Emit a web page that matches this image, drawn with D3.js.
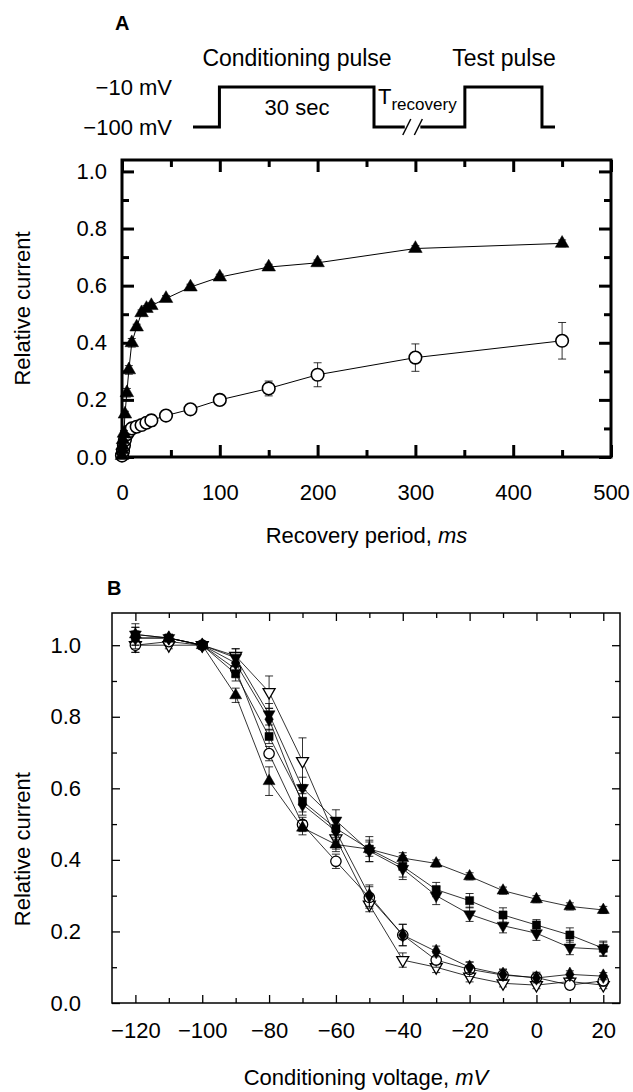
<!DOCTYPE html>
<html>
<head>
<meta charset="utf-8">
<script src="https://cdn.jsdelivr.net/npm/d3@7"></script>
<style>
  body { margin: 0; background: #ffffff; }
  svg text { font-family: "Liberation Sans", Arial, Helvetica, sans-serif; fill: #000; }
</style>
</head>
<body>
<div id="chart"></div>
<script>
(function() {
  'use strict';

  // Panel A: recovery from inactivation (filled triangles, open circles)
  const recoveryMsTri = [0, 0.25, 0.5, 1, 2, 3, 5, 7, 10, 15, 20, 25, 30, 45, 70, 100, 150, 200, 300, 450];
  const currentTri    = [0.005, 0.025, 0.04, 0.06, 0.083, 0.15, 0.225, 0.305, 0.40, 0.455, 0.505, 0.52, 0.53, 0.555, 0.595, 0.63, 0.665, 0.68, 0.73, 0.748];
  const errTri        = [0.005, 0.005, 0.005, 0.005, 0.01, 0.01, 0.015, 0.015, 0.015, 0.01, 0.01, 0.01, 0.01, 0.01, 0.01, 0.01, 0.01, 0.01, 0.01, 0.012];
  const recoveryMsCirc = [0, 1, 2, 3, 5, 7, 10, 15, 20, 25, 30, 45, 70, 100, 150, 200, 300, 450];
  const currentCirc    = [0.005, 0.02, 0.04, 0.06, 0.08, 0.09, 0.1, 0.106, 0.112, 0.12, 0.128, 0.145, 0.167, 0.2, 0.24, 0.288, 0.348, 0.407];
  const errCirc        = [0.005, 0.005, 0.005, 0.01, 0.01, 0.01, 0.01, 0.01, 0.012, 0.015, 0.02, 0.01, 0.01, 0.015, 0.026, 0.042, 0.048, 0.064];

  const recoveryTicks = [0, 100, 200, 300, 400, 500];
  const recoveryMinorTicks = [50, 150, 250, 350, 450];
  const currentTicks = [0, 0.2, 0.4, 0.6, 0.8, 1.0];
  const currentMinorTicks = [0.1, 0.3, 0.5, 0.7, 0.9];

  // Panel B: steady-state inactivation, six series
  const voltages = [-120, -110, -100, -90, -80, -70, -60, -50, -40, -30, -20, -10, 0, 10, 20];
  const triUp     = [1.03, 1.02, 1.0, 0.86, 0.62, 0.49, 0.443, 0.43, 0.405, 0.39, 0.354, 0.314, 0.29, 0.27, 0.26];
  const squares   = [1.02, 1.02, 1.0, 0.92, 0.745, 0.564, 0.488, 0.43, 0.382, 0.317, 0.286, 0.246, 0.218, 0.19, 0.153];
  const triDown   = [1.03, 1.02, 1.0, 0.965, 0.807, 0.601, 0.51, 0.425, 0.375, 0.30, 0.248, 0.216, 0.195, 0.155, 0.15];
  const diamonds  = [1.02, 1.02, 1.0, 0.95, 0.793, 0.555, 0.48, 0.30, 0.19, 0.144, 0.10, 0.08, 0.07, 0.08, 0.075];
  const circles   = [1.00, 1.01, 1.0, 0.933, 0.697, 0.499, 0.396, 0.295, 0.19, 0.12, 0.094, 0.078, 0.071, 0.05, 0.062];
  const triOpen   = [1.00, 1.00, 1.0, 0.97, 0.869, 0.676, 0.46, 0.275, 0.12, 0.10, 0.074, 0.055, 0.05, 0.06, 0.05];

  const errUp     = [0.02, 0.01, 0, 0.02, 0.04, 0.02, 0.02, 0.02, 0.015, 0.01, 0.01, 0.01, 0.01, 0.01, 0.01];
  const errSq     = [0.03, 0.01, 0, 0.02, 0.02, 0.03, 0.03, 0.035, 0.03, 0.02, 0.02, 0.02, 0.015, 0.02, 0.02];
  const errDown   = [0.03, 0.01, 0, 0.025, 0.03, 0.03, 0.03, 0.03, 0.03, 0.025, 0.02, 0.02, 0.02, 0.02, 0.02];
  const errDia    = [0.02, 0.01, 0, 0.02, 0.03, 0.03, 0.03, 0.03, 0.03, 0.015, 0.015, 0.015, 0.01, 0.01, 0.01];
  const errCircB  = [0.02, 0.01, 0, 0.02, 0.02, 0.02, 0.02, 0.03, 0.03, 0.02, 0.02, 0.015, 0.015, 0.01, 0.015];
  const errOpen   = [0.02, 0.01, 0, 0.02, 0.045, 0.065, 0.03, 0.02, 0.02, 0.015, 0.015, 0.01, 0.01, 0.01, 0.01];

  const voltageTicks = [-120, -100, -80, -60, -40, -20, 0, 20];
  const voltageMinorTicks = [-110, -90, -70, -50, -30, -10, 10];

  // Protocol schematic (fraction of schematic width, mV level)
  const protocolLevels = [-10, -100];
  const protocolTraceA = [[0, -100], [0.073, -100], [0.073, -10], [0.5, -10], [0.5, -100], [0.585, -100]];
  const protocolTraceB = [[0.628, -100], [0.751, -100], [0.751, -10], [0.964, -10], [0.964, -100], [1, -100]];

  const W = 633, H = 1092;
  const FONT = 22;

  const svg = d3.select('#chart').append('svg')
    .attr('width', W)
    .attr('height', H);
  svg.append('rect').attr('width', W).attr('height', H).attr('fill', '#fff');

  /**
   * Boxed frame with inward ticks on all four sides
   */
  function drawFrame(g, x, y, o) {
    const [x0, x1] = x.range();
    const [y0, y1] = y.range();

    function addAxis(axis, tr) {
      g.append('g')
        .attr('transform', tr)
        .call(axis)
        .call(s => s.select('.domain').remove());
    }

    addAxis(d3.axisBottom(x).tickValues(o.xMajor).tickSize(-o.major).tickPadding(o.xPad).tickFormat(o.xFmt), `translate(0,${y0})`);
    addAxis(d3.axisBottom(x).tickValues(o.xMinor).tickSize(-o.minor).tickFormat(''), `translate(0,${y0})`);
    addAxis(d3.axisTop(x).tickValues(o.xMajor).tickSize(-o.major).tickFormat(''), `translate(0,${y1})`);
    addAxis(d3.axisTop(x).tickValues(o.xMinor).tickSize(-o.minor).tickFormat(''), `translate(0,${y1})`);
    addAxis(d3.axisLeft(y).tickValues(o.yMajor).tickSize(-o.major).tickPadding(o.yPad).tickFormat(d3.format('.1f')), `translate(${x0},0)`);
    addAxis(d3.axisLeft(y).tickValues(o.yMinor).tickSize(-o.minor).tickFormat(''), `translate(${x0},0)`);
    addAxis(d3.axisRight(y).tickValues(o.yMajor).tickSize(-o.major).tickFormat(''), `translate(${x1},0)`);
    addAxis(d3.axisRight(y).tickValues(o.yMinor).tickSize(-o.minor).tickFormat(''), `translate(${x1},0)`);

    g.selectAll('.tick line').attr('stroke', '#000').attr('stroke-width', o.tickW);
    g.selectAll('.tick text')
      .attr('font-size', FONT)
      .attr('font-family', '"Liberation Sans", Arial, Helvetica, sans-serif')
      .attr('fill', '#000');

    g.append('rect')
      .attr('x', x0)
      .attr('y', y1)
      .attr('width', x1 - x0)
      .attr('height', y0 - y1)
      .attr('fill', 'none')
      .attr('stroke', '#000')
      .attr('stroke-width', o.frame);
  }

  /**
   * One series: connecting line, error bars, markers
   */
  function drawSeries(g, x, y, xs, ys, errs, marker, o) {
    const pts = xs.map((d, i) => ({ x: d, y: ys[i], e: errs[i] }));

    g.append('path')
      .datum(pts)
      .attr('d', d3.line().x(d => x(d.x)).y(d => y(d.y)))
      .attr('fill', 'none')
      .attr('stroke', '#000')
      .attr('stroke-width', o.lineW);

    const eb = g.append('g');
    pts.filter(d => d.e > 0.006).forEach(d => {
      const cx = x(d.x), top = y(d.y + d.e), bot = y(d.y - d.e);
      eb.append('line').attr('x1', cx).attr('x2', cx).attr('y1', top).attr('y2', bot);
      eb.append('line').attr('x1', cx - o.cap).attr('x2', cx + o.cap).attr('y1', top).attr('y2', top);
      eb.append('line').attr('x1', cx - o.cap).attr('x2', cx + o.cap).attr('y1', bot).attr('y2', bot);
    });
    eb.selectAll('line').attr('stroke', '#000').attr('stroke-width', 0.8);

    const mk = g.append('g');
    pts.forEach(d => {
      const cx = x(d.x), cy = y(d.y);
      if (marker.type === 'circle') {
        mk.append('circle')
          .attr('cx', cx).attr('cy', cy).attr('r', marker.r)
          .attr('fill', '#fff').attr('stroke', '#000').attr('stroke-width', marker.sw);
      } else {
        mk.append('path')
          .attr('d', d3.symbol().type(marker.type).size(marker.size)())
          .attr('transform', `translate(${cx},${cy})` + (marker.flip ? ' rotate(180)' : ''))
          .attr('fill', marker.open ? '#fff' : '#000')
          .attr('stroke', '#000')
          .attr('stroke-width', marker.open ? 1.3 : 0.5);
      }
    });
  }

  // ---------------- Protocol schematic ----------------
  const protoX = d3.scaleLinear().domain([0, 1]).range([193, 555]);
  const protoY = d3.scaleLinear().domain([-100, -10]).range([127, 87]);
  const proto = svg.append('g');
  const protoLine = d3.line().x(d => protoX(d[0])).y(d => protoY(d[1]));

  [protocolTraceA, protocolTraceB].forEach(tr => {
    proto.append('path')
      .attr('d', protoLine(tr))
      .attr('fill', 'none')
      .attr('stroke', '#000')
      .attr('stroke-width', 3)
      .attr('stroke-linejoin', 'miter');
  });
  // break marks
  [protoX(0.585) + 2, protoX(0.628) - 2].forEach(bx => {
    proto.append('line')
      .attr('x1', bx - 4).attr('x2', bx + 4)
      .attr('y1', protoY(-100) + 8).attr('y2', protoY(-100) - 8)
      .attr('stroke', '#000').attr('stroke-width', 1.5);
  });

  protocolLevels.forEach(v => {
    proto.append('text')
      .attr('x', 172)
      .attr('y', protoY(v))
      .attr('dy', '0.36em')
      .attr('text-anchor', 'end')
      .attr('font-size', FONT)
      .text(d3.format('d')(v) + ' mV');
  });

  proto.append('text').attr('x', 297).attr('y', 66).attr('text-anchor', 'middle')
    .attr('font-size', 23).text('Conditioning pulse');
  proto.append('text').attr('x', 504).attr('y', 66).attr('text-anchor', 'middle')
    .attr('font-size', 23).text('Test pulse');
  proto.append('text').attr('x', 297).attr('y', 115).attr('text-anchor', 'middle')
    .attr('font-size', FONT).text('30 sec');
  const tRec = proto.append('text').attr('x', 378).attr('y', 104).attr('font-size', FONT);
  tRec.append('tspan').text('T');
  tRec.append('tspan').attr('dy', 6).attr('font-size', 17).text('recovery');

  svg.append('text').attr('x', 115).attr('y', 30).attr('font-size', 20)
    .attr('font-weight', 'bold').text('A');
  svg.append('text').attr('x', 107).attr('y', 595).attr('font-size', 20)
    .attr('font-weight', 'bold').text('B');

  // ---------------- Panel A ----------------
  const xA = d3.scaleLinear().domain([0, 500]).range([122, 611]);
  const yA = d3.scaleLinear().domain([0, 1.04]).range([457, 160]);
  const gA = svg.append('g');

  drawFrame(gA, xA, yA, {
    xMajor: recoveryTicks, xMinor: recoveryMinorTicks,
    yMajor: currentTicks, yMinor: currentMinorTicks,
    major: 12, minor: 7, tickW: 3, frame: 3,
    xPad: 27, yPad: 15, xFmt: d3.format('d')
  });

  const styleA = { lineW: 1, cap: 4 };
  drawSeries(gA, xA, yA, recoveryMsCirc, currentCirc, errCirc, { type: 'circle', r: 6.3, sw: 1.6 }, styleA);
  drawSeries(gA, xA, yA, recoveryMsTri, currentTri, errTri, { type: d3.symbolTriangle, size: 80 }, styleA);

  gA.append('text')
    .attr('transform', `translate(30,${(yA.range()[0] + yA.range()[1]) / 2}) rotate(-90)`)
    .attr('text-anchor', 'middle')
    .attr('font-size', FONT)
    .text('Relative current');

  const titleA = gA.append('text')
    .attr('x', (xA.range()[0] + xA.range()[1]) / 2)
    .attr('y', 543)
    .attr('text-anchor', 'middle')
    .attr('font-size', FONT);
  titleA.append('tspan').text('Recovery period, ');
  titleA.append('tspan').attr('font-style', 'italic').text('ms');

  // ---------------- Panel B ----------------
  const xB = d3.scaleLinear().domain([-127, 25]).range([112, 620]);
  const yB = d3.scaleLinear().domain([0, 1.09]).range([1003, 613]);
  const gB = svg.append('g');

  drawFrame(gB, xB, yB, {
    xMajor: voltageTicks, xMinor: voltageMinorTicks,
    yMajor: currentTicks, yMinor: currentMinorTicks,
    major: 8, minor: 5, tickW: 1.3, frame: 1.5,
    xPad: 19, yPad: 31, xFmt: d3.format('d')
  });

  const styleB = { lineW: 0.8, cap: 4 };
  drawSeries(gB, xB, yB, voltages, triOpen, errOpen, { type: d3.symbolTriangle, size: 62, flip: true, open: true }, styleB);
  drawSeries(gB, xB, yB, voltages, circles, errCircB, { type: 'circle', r: 5.2, sw: 1.3 }, styleB);
  drawSeries(gB, xB, yB, voltages, diamonds, errDia, { type: d3.symbolDiamond, size: 62 }, styleB);
  drawSeries(gB, xB, yB, voltages, triDown, errDown, { type: d3.symbolTriangle, size: 62, flip: true }, styleB);
  drawSeries(gB, xB, yB, voltages, squares, errSq, { type: d3.symbolSquare, size: 66 }, styleB);
  drawSeries(gB, xB, yB, voltages, triUp, errUp, { type: d3.symbolTriangle, size: 62 }, styleB);

  gB.append('text')
    .attr('transform', `translate(30,${yB(0.43)}) rotate(-90)`)
    .attr('text-anchor', 'middle')
    .attr('font-size', FONT)
    .text('Relative current');

  const titleB = gB.append('text')
    .attr('x', (xB.range()[0] + xB.range()[1]) / 2)
    .attr('y', 1085)
    .attr('text-anchor', 'middle')
    .attr('font-size', FONT);
  titleB.append('tspan').text('Conditioning voltage, ');
  titleB.append('tspan').attr('font-style', 'italic').text('mV');
})();
</script>
</body>
</html>
